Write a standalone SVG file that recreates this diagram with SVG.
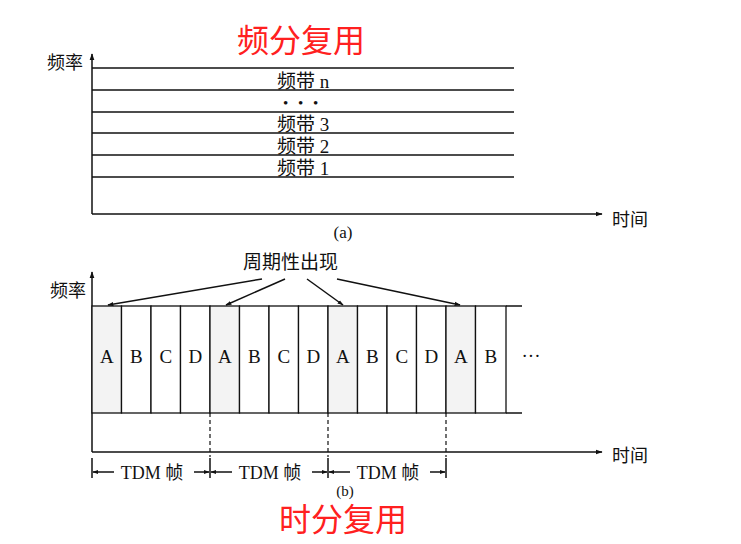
<svg xmlns="http://www.w3.org/2000/svg" width="741" height="544" viewBox="0 0 741 544">
<style>
.ln{stroke:#111;stroke-width:1.5;fill:none}
.t{font-family:"Liberation Serif","Noto Sans CJK SC",serif;fill:#111}
.cj{font-family:"Noto Sans CJK SC",sans-serif;fill:#111}
.red{font-family:"Noto Sans CJK SC",sans-serif;fill:#ff2020;font-size:32px}
.dash{stroke:#111;stroke-width:1.2;stroke-dasharray:4,3;fill:none}
.cell{fill:#fff;stroke:#111;stroke-width:1.3}
.cellA{fill:#f3f3f3;stroke:#111;stroke-width:1.3}
.letter{font-family:"Liberation Serif",serif;font-size:19px;fill:#111;text-anchor:middle}
</style>
<defs>
<marker id="ah" viewBox="0 0 10 10" refX="9" refY="5" markerWidth="7" markerHeight="7" orient="auto-start-reverse" markerUnits="userSpaceOnUse"><path d="M0,1.5 L10,5 L0,8.5 z" fill="#111"/></marker>
<marker id="ahs" viewBox="0 0 10 10" refX="9" refY="5" markerWidth="6" markerHeight="6" orient="auto-start-reverse" markerUnits="userSpaceOnUse"><path d="M0,1.5 L10,5 L0,8.5 z" fill="#111"/></marker>
</defs>

<g id="title-fdm"><text class="red" x="301" y="52" text-anchor="middle">频分复用</text></g>

<g id="fdm-axes">
<line class="ln" x1="92" y1="214" x2="92" y2="54" marker-end="url(#ah)"/>
<line class="ln" x1="92" y1="214" x2="602" y2="214" marker-end="url(#ah)"/>
<text class="cj" x="47" y="69" font-size="18">频率</text>
<text class="cj" x="612" y="226" font-size="18">时间</text>
<text class="t" x="343" y="238" font-size="17" text-anchor="middle">(a)</text>
</g>

<g id="fdm-bands">
<line class="ln" x1="92" y1="68" x2="514" y2="68"/>
<line class="ln" x1="92" y1="90" x2="514" y2="90"/>
<line class="ln" x1="92" y1="112" x2="514" y2="112"/>
<line class="ln" x1="92" y1="133" x2="514" y2="133"/>
<line class="ln" x1="92" y1="155" x2="514" y2="155"/>
<line class="ln" x1="92" y1="177" x2="514" y2="177"/>
<text class="t" x="277" y="88" font-size="19">频带 n</text>
<text class="t" x="283" y="108" font-size="15" letter-spacing="3">• • •</text>
<text class="t" x="277" y="131" font-size="19">频带 3</text>
<text class="t" x="277" y="153" font-size="19">频带 2</text>
<text class="t" x="277" y="175" font-size="19">频带 1</text>
</g>

<g id="tdm-axes">
<line class="ln" x1="92" y1="452" x2="92" y2="272" marker-end="url(#ah)"/>
<line class="ln" x1="92" y1="452" x2="602" y2="452" marker-end="url(#ah)"/>
<text class="cj" x="50" y="297" font-size="18">频率</text>
<text class="cj" x="612" y="462" font-size="18">时间</text>
</g>

<g id="tdm-cells">
<rect class="cellA" x="92" y="306" width="29.5" height="107"/>
<rect class="cell" x="121.5" y="306" width="29.5" height="107"/>
<rect class="cell" x="151" y="306" width="29.5" height="107"/>
<rect class="cell" x="180.5" y="306" width="29.5" height="107"/>
<rect class="cellA" x="210" y="306" width="29.5" height="107"/>
<rect class="cell" x="239.5" y="306" width="29.5" height="107"/>
<rect class="cell" x="269" y="306" width="29.5" height="107"/>
<rect class="cell" x="298.5" y="306" width="29.5" height="107"/>
<rect class="cellA" x="328" y="306" width="29.5" height="107"/>
<rect class="cell" x="357.5" y="306" width="29.5" height="107"/>
<rect class="cell" x="387" y="306" width="29.5" height="107"/>
<rect class="cell" x="416.5" y="306" width="29.5" height="107"/>
<rect class="cellA" x="446" y="306" width="29.5" height="107"/>
<rect class="cell" x="475.5" y="306" width="30.5" height="107"/>
<line class="ln" x1="506" y1="306" x2="522" y2="306"/>
<line class="ln" x1="506" y1="413" x2="522" y2="413"/>
<text class="letter" x="106.75" y="363">A</text>
<text class="letter" x="136.25" y="363">B</text>
<text class="letter" x="165.75" y="363">C</text>
<text class="letter" x="195.25" y="363">D</text>
<text class="letter" x="224.75" y="363">A</text>
<text class="letter" x="254.25" y="363">B</text>
<text class="letter" x="283.75" y="363">C</text>
<text class="letter" x="313.25" y="363">D</text>
<text class="letter" x="342.75" y="363">A</text>
<text class="letter" x="372.25" y="363">B</text>
<text class="letter" x="401.75" y="363">C</text>
<text class="letter" x="431.25" y="363">D</text>
<text class="letter" x="460.75" y="363">A</text>
<text class="letter" x="490.75" y="363">B</text>
<text class="letter" x="531" y="362">···</text>
</g>

<g id="periodic-label"><text class="cj" x="243" y="269" font-size="19">周期性出现</text></g>

<g id="connectors">
<line class="ln" x1="262" y1="279" x2="108" y2="305" marker-end="url(#ahs)"/>
<line class="ln" x1="285" y1="279" x2="226" y2="305" marker-end="url(#ahs)"/>
<line class="ln" x1="307" y1="279" x2="343" y2="305" marker-end="url(#ahs)"/>
<line class="ln" x1="337" y1="279" x2="460" y2="305" marker-end="url(#ahs)"/>
<line class="dash" x1="210" y1="413" x2="210" y2="457"/>
<line class="dash" x1="328" y1="413" x2="328" y2="457"/>
<line class="dash" x1="446" y1="413" x2="446" y2="457"/>
</g>

<g id="tdm-frames">
<line class="ln" x1="92" y1="458" x2="92" y2="478"/>
<line class="ln" x1="210" y1="458" x2="210" y2="478"/>
<line class="ln" x1="328" y1="458" x2="328" y2="478"/>
<line class="ln" x1="446" y1="458" x2="446" y2="478"/>
<line class="ln" x1="114" y1="472" x2="93" y2="472" marker-end="url(#ahs)"/>
<line class="ln" x1="194" y1="472" x2="209" y2="472" marker-end="url(#ahs)"/>
<line class="ln" x1="232" y1="472" x2="211" y2="472" marker-end="url(#ahs)"/>
<line class="ln" x1="312" y1="472" x2="327" y2="472" marker-end="url(#ahs)"/>
<line class="ln" x1="350" y1="472" x2="329" y2="472" marker-end="url(#ahs)"/>
<line class="ln" x1="430" y1="472" x2="445" y2="472" marker-end="url(#ahs)"/>
<text class="t" x="152" y="479" font-size="18" text-anchor="middle">TDM 帧</text>
<text class="t" x="270" y="479" font-size="18" text-anchor="middle">TDM 帧</text>
<text class="t" x="388" y="479" font-size="18" text-anchor="middle">TDM 帧</text>
<text class="t" x="345" y="496" font-size="15" text-anchor="middle">(b)</text>
</g>

<g id="title-tdm"><text class="red" x="343" y="531" text-anchor="middle">时分复用</text></g>
</svg>
